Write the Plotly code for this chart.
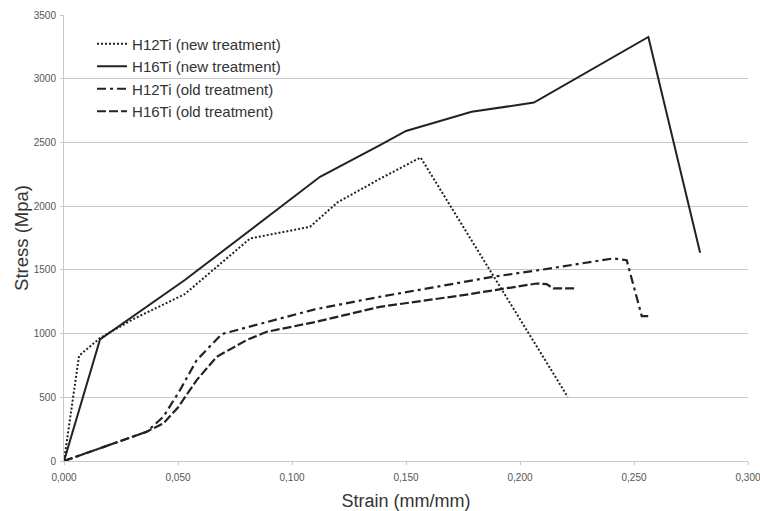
import plotly.graph_objects as go

# H12Ti (new treatment)
h12_new_x = [0, 0.0066, 0.0158, 0.030, 0.053, 0.0816, 0.1079, 0.120, 0.1386, 0.1564, 0.2209]
h12_new_y = [0, 826, 965, 1110, 1310, 1746, 1838, 2030, 2215, 2382, 504]

# H16Ti (new treatment)
h16_new_x = [0, 0.0158, 0.053, 0.080, 0.1123, 0.1386, 0.150, 0.1788, 0.2061, 0.2563, 0.279]
h16_new_y = [0, 954, 1420, 1786, 2230, 2478, 2590, 2740, 2813, 3328, 1634]

# H12Ti (old treatment)
h12_old_x = [0, 0.016, 0.0363, 0.0436, 0.0509, 0.0582, 0.0692, 0.0977, 0.1100, 0.1386,
             0.1883, 0.2102, 0.2409, 0.2468, 0.2534, 0.2567]
h12_old_y = [0, 100, 230, 348, 557, 792, 996, 1132, 1190, 1289,
             1446, 1503, 1590, 1576, 1137, 1137]

# H16Ti (old treatment)
h16_old_x = [0, 0.016, 0.0363, 0.0436, 0.0500, 0.0582, 0.067, 0.0801, 0.0889, 0.1108,
             0.1386, 0.1751, 0.2073, 0.2117, 0.2146, 0.2241]
h16_old_y = [0, 100, 230, 296, 420, 635, 818, 949, 1014, 1093,
             1210, 1302, 1393, 1388, 1354, 1354]

x_ticks = [0, 0.05, 0.10, 0.15, 0.20, 0.25, 0.30]
y_ticks = [0, 500, 1000, 1500, 2000, 2500, 3000, 3500]

series = [
    ("H12Ti (new treatment)", h12_new_x, h12_new_y, "2px,2px", 2),
    ("H16Ti (new treatment)", h16_new_x, h16_new_y, "solid", 2),
    ("H12Ti (old treatment)", h12_old_x, h12_old_y, "9px,4px,3px,4px", 2.2),
    ("H16Ti (old treatment)", h16_old_x, h16_old_y, "9px,3px", 2.2),
]

fig = go.Figure()
for i, (name, xs, ys, dash, w) in enumerate(series):
    fig.add_trace(go.Scatter(
        x=xs, y=ys, mode="lines", name=name,
        line=dict(color="#222222", width=w, dash=dash),
    ))

font = "Liberation Sans, Arial, sans-serif"
fig.update_layout(
    width=760, height=511,
    margin=dict(l=64, r=12, t=15, b=50),
    paper_bgcolor="white", plot_bgcolor="white",
    separators=", ",
    font=dict(family=font, color="#333333"),
    showlegend=True,
    legend=dict(
        x=0.041, y=0.972, xanchor="left", yanchor="top",
        bgcolor="rgba(0,0,0,0)", font=dict(size=15, color="#333333"),
        traceorder="normal",
    ),
    xaxis=dict(
        range=[0, 0.3], tickvals=x_ticks, tickformat=".3f",
        showgrid=False, zeroline=False, automargin=False,
        showline=True, linecolor="#c8c8c8", linewidth=1,
        ticks="outside", ticklen=3, tickcolor="#c8c8c8",
        ticklabelstandoff=4, ticklabeloverflow="allow",
        tickfont=dict(size=10, color="#555555"),
        title=dict(text="Strain (mm/mm)", font=dict(size=18, color="#333333"), standoff=12),
    ),
    yaxis=dict(
        range=[0, 3500], tickvals=y_ticks, tickformat="d",
        showgrid=True, gridcolor="#c8c8c8", gridwidth=1, zeroline=False, automargin=False,
        showline=True, linecolor="#c8c8c8", linewidth=1,
        ticks="outside", ticklen=3, tickcolor="#c8c8c8",
        ticklabelstandoff=2, ticklabeloverflow="allow",
        tickfont=dict(size=10, color="#555555"),
        title=dict(text="Stress (Mpa)", font=dict(size=18.5, color="#333333"), standoff=0),
    ),
)

fig.write_html("out.html")
